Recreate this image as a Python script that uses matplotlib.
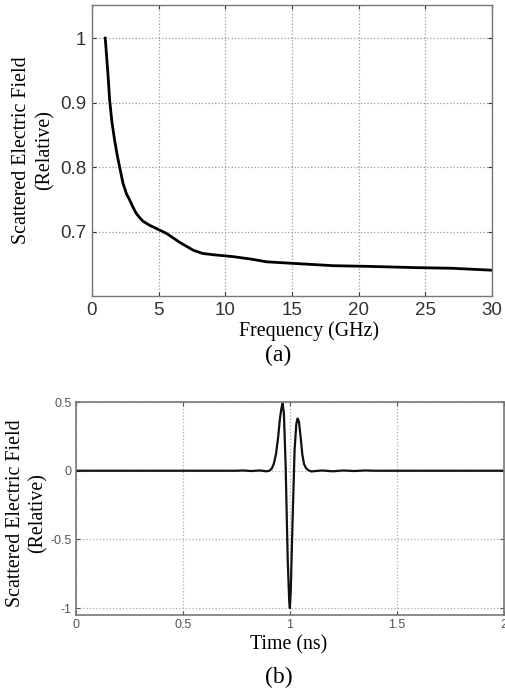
import matplotlib
matplotlib.use("Agg")
from matplotlib import pyplot as plt

# (a) scattered field vs frequency
freq = [1.0, 1.2, 1.33, 1.5, 1.7, 1.9, 2.08, 2.33, 2.6, 2.83, 3.1, 3.33, 3.6, 3.83, 4.3,
        4.8, 5.2, 5.6, 6.1, 6.6, 7.1, 7.6, 8.3, 9.1, 10.6, 12.0, 13.1, 15.6, 18.1, 20.6, 24.3, 27.0, 30.0]
field = [1.0, 0.945, 0.904, 0.87, 0.842, 0.818, 0.80, 0.775, 0.758, 0.749, 0.737, 0.728, 0.721, 0.716, 0.71,
         0.705, 0.701, 0.697, 0.69, 0.683, 0.677, 0.671, 0.666, 0.664, 0.661, 0.657, 0.653, 0.650, 0.647, 0.646, 0.644, 0.643, 0.640]

# (b) scattered field vs time
time = [0.0, 0.75, 0.78, 0.82, 0.86, 0.89, 0.905, 0.915, 0.925, 0.935, 0.945, 0.953, 0.96, 0.966,
        0.972, 0.98, 0.99, 0.997, 1.0, 1.004, 1.012, 1.022, 1.03, 1.036, 1.042, 1.05, 1.058,
        1.066, 1.075, 1.085, 1.1, 1.15, 1.2, 1.25, 1.3, 1.35, 1.4, 2.0]
pulse = [0.0, 0.0, 0.002, -0.002, 0.002, -0.004, 0.0, 0.015, 0.05, 0.12, 0.24, 0.37, 0.45, 0.49,
         0.42, 0.05, -0.65, -0.95, -1.0, -0.88, -0.4, 0.15, 0.34, 0.38, 0.36, 0.25, 0.12,
         0.05, 0.02, 0.005, -0.005, 0.002, -0.004, 0.002, -0.002, 0.002, 0.0, 0.0]

serif = ["Liberation Serif", "DejaVu Serif"]
sans = ["Liberation Sans", "DejaVu Sans"]

fig = plt.figure(figsize=(5.05, 6.94), dpi=100)

# Top plot
ax1 = fig.add_axes([0.182, 0.5735, 0.792, 0.419])
ax1.plot(freq, field, color="black", lw=2.0)
ax1.set_xlim(0, 30)
ax1.set_ylim(0.6, 1.051)
ax1.set_xticks([0, 5, 10, 15, 20, 25, 30])
ax1.set_yticks([0.7, 0.8, 0.9, 1.0])
ax1.set_yticklabels(["0.7", "0.8", "0.9", "1"])
ax1.grid(True, linestyle=":", color="#999999", lw=0.9)
ax1.tick_params(direction="in", length=3, top=True, right=True, labelsize=13.5, colors="#333333", pad=4)
for lab in ax1.get_xticklabels() + ax1.get_yticklabels():
    lab.set_family(sans)
for s in ax1.spines.values():
    s.set_color("#777777")
    s.set_linewidth(1.0)

fig.text(0.066, 0.784, "Scattered Electric Field\n(Relative)", rotation=90, ha="center", va="center",
         multialignment="center", family=serif, fontsize=14.3, linespacing=1.3)
fig.text(0.612, 0.523, "Frequency (GHz)", ha="center", va="center", family=serif, fontsize=14.3)
fig.text(0.551, 0.488, "(a)", ha="center", va="center", family=serif, fontsize=17)

# Bottom plot
ax2 = fig.add_axes([0.150, 0.1138, 0.848, 0.3069])
ax2.plot(time, pulse, color="#111111", lw=1.6)
ax2.set_xlim(0, 2)
ax2.set_ylim(-1.05, 0.5)
ax2.set_xticks([0, 0.5, 1, 1.5, 2])
ax2.set_xticklabels(["0", "0.5", "1", "1.5", "2"])
ax2.set_yticks([-1, -0.5, 0, 0.5])
ax2.set_yticklabels(["-1", "-0.5", "0", "0.5"])
ax2.grid(True, linestyle=":", color="#aaaaaa", lw=0.9)
ax2.tick_params(direction="in", length=3, top=True, right=True, labelsize=9, colors="#555555", pad=3)
for lab in ax2.get_xticklabels() + ax2.get_yticklabels():
    lab.set_family(sans)
for s in ax2.spines.values():
    s.set_color("#777777")
    s.set_linewidth(1.2)

fig.text(0.053, 0.261, "Scattered Electric Field\n(Relative)", rotation=90, ha="center", va="center",
         multialignment="center", family=serif, fontsize=14.3, linespacing=1.3)
fig.text(0.572, 0.071, "Time (ns)", ha="center", va="center", family=serif, fontsize=14.3)
fig.text(0.553, 0.024, "(b)", ha="center", va="center", family=serif, fontsize=17)

fig.savefig("out.png", dpi=100)
